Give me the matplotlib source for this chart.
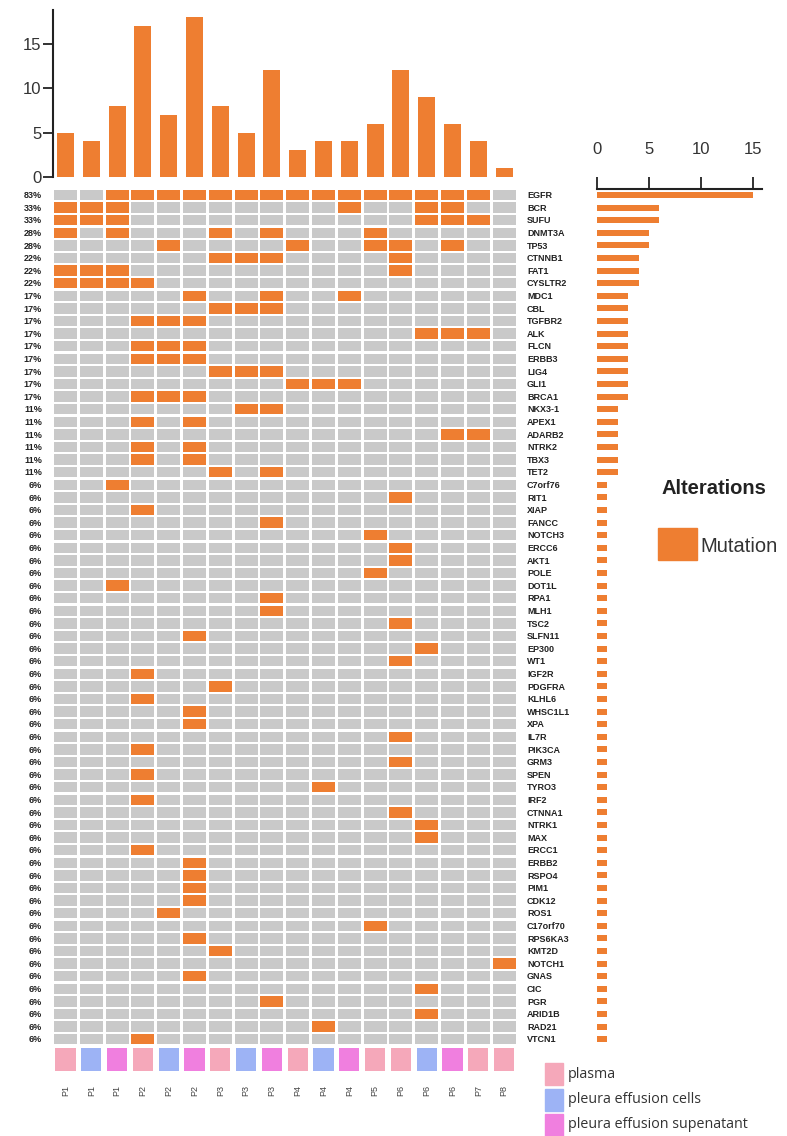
import numpy as np
import matplotlib
matplotlib.use("Agg")
import matplotlib.pyplot as plt
from matplotlib.patches import Rectangle

plt.rcParams['font.family'] = ['Liberation Sans', 'DejaVu Sans']

# samples (columns) and their source type
samples = ['P1', 'P1', 'P1', 'P2', 'P2', 'P2', 'P3', 'P3', 'P3',
           'P4', 'P4', 'P4', 'P5', 'P6', 'P6', 'P6', 'P7', 'P8']
sample_type = ['plasma', 'cells', 'supernatant', 'plasma', 'cells', 'supernatant',
               'plasma', 'cells', 'supernatant', 'plasma', 'cells', 'supernatant',
               'plasma', 'plasma', 'cells', 'supernatant', 'plasma', 'plasma']
type_names = ['plasma', 'cells', 'supernatant']
type_labels = ['plasma', 'pleura effusion cells', 'pleura effusion supenatant']
type_colors = ['#F5A8BA', '#9DB3F5', '#F07FDF']

# genes (rows) and the sample columns (0-based) carrying a mutation
genes = ['EGFR', 'BCR', 'SUFU', 'DNMT3A', 'TP53', 'CTNNB1', 'FAT1', 'CYSLTR2',
         'MDC1', 'CBL', 'TGFBR2', 'ALK', 'FLCN', 'ERBB3', 'LIG4', 'GLI1', 'BRCA1',
         'NKX3-1', 'APEX1', 'ADARB2', 'NTRK2', 'TBX3', 'TET2', 'C7orf76', 'RIT1',
         'XIAP', 'FANCC', 'NOTCH3', 'ERCC6', 'AKT1', 'POLE', 'DOT1L', 'RPA1', 'MLH1',
         'TSC2', 'SLFN11', 'EP300', 'WT1', 'IGF2R', 'PDGFRA', 'KLHL6', 'WHSC1L1',
         'XPA', 'IL7R', 'PIK3CA', 'GRM3', 'SPEN', 'TYRO3', 'IRF2', 'CTNNA1', 'NTRK1',
         'MAX', 'ERCC1', 'ERBB2', 'RSPO4', 'PIM1', 'CDK12', 'ROS1', 'C17orf70',
         'RPS6KA3', 'KMT2D', 'NOTCH1', 'GNAS', 'CIC', 'PGR', 'ARID1B', 'RAD21', 'VTCN1']
mutated = [
    [2, 3, 4, 5, 6, 7, 8, 9, 10, 11, 12, 13, 14, 15, 16],  # EGFR
    [0, 1, 2, 11, 14, 15],  # BCR
    [0, 1, 2, 14, 15, 16],  # SUFU
    [0, 2, 6, 8, 12],       # DNMT3A
    [4, 9, 12, 13, 15],     # TP53
    [6, 7, 8, 13],          # CTNNB1
    [0, 1, 2, 13],          # FAT1
    [0, 1, 2, 3],           # CYSLTR2
    [5, 8, 11],             # MDC1
    [6, 7, 8],              # CBL
    [3, 4, 5],              # TGFBR2
    [14, 15, 16],           # ALK
    [3, 4, 5],              # FLCN
    [3, 4, 5],              # ERBB3
    [6, 7, 8],              # LIG4
    [9, 10, 11],            # GLI1
    [3, 4, 5],              # BRCA1
    [7, 8],                 # NKX3-1
    [3, 5],                 # APEX1
    [15, 16],               # ADARB2
    [3, 5],                 # NTRK2
    [3, 5],                 # TBX3
    [6, 8],                 # TET2
    [2], [13], [3], [8], [12], [13], [13], [12], [2], [8], [8],
    [13], [5], [14], [13], [3], [6], [3], [5], [5], [13], [3], [13],
    [3], [10], [3], [13], [14], [14], [3], [5], [5], [5], [5], [4],
    [12], [5], [6], [17], [5], [14], [8], [14], [10], [3],
]

n_rows = len(genes)
n_cols = len(samples)
mat = np.zeros((n_rows, n_cols), dtype=int)
for i, cols in enumerate(mutated):
    mat[i, cols] = 1
gene_counts = mat.sum(axis=1)
sample_counts = mat.sum(axis=0)

W, H = 787, 1136
gray = '#C9C9C9'
orange = '#EE7E31'


def box(left, top, right, bottom):
    return [left / W, 1 - bottom / H, (right - left) / W, (bottom - top) / H]


fig = plt.figure(figsize=(W / 100, H / 100), dpi=100)

# main oncoprint grid
grid_l, grid_r, grid_t, grid_b = 52.6, 517, 188.7, 1045.5
ax = fig.add_axes(box(grid_l, grid_t, grid_r, grid_b))
xs = np.arange(n_cols) + 0.5
for i in range(n_rows):
    ax.bar(xs, 0.84, bottom=i + 0.08, width=0.89, color=gray, linewidth=0)
    cols = np.where(mat[i] == 1)[0]
    ax.bar(cols + 0.5, 0.84, bottom=i + 0.08, width=0.89, color=orange, linewidth=0)
    pct = '%d%%' % round(100 * gene_counts[i] / n_cols)
    ax.text(-0.41, i + 0.55, pct, ha='right', va='center', fontsize=6.5,
            fontweight='bold', color='#222222')
    ax.text(18.39, i + 0.55, genes[i], ha='left', va='center', fontsize=6.5,
            fontweight='bold', color='#222222')
ax.set_xlim(0, n_cols)
ax.set_ylim(n_rows, 0)
ax.axis('off')

# top bar chart: mutations per sample
axt = fig.add_axes(box(grid_l, 10, grid_r, 177))
axt.bar(xs, sample_counts, width=0.66, color=orange, linewidth=0)
axt.set_xlim(0, n_cols)
axt.set_ylim(0, 18.8)
axt.set_yticks([0, 5, 10, 15])
axt.set_xticks([])
for s in ['top', 'right', 'bottom']:
    axt.spines[s].set_visible(False)
axt.spines['left'].set_linewidth(1.5)
axt.spines['left'].set_color('#222222')
axt.tick_params(axis='y', length=7, width=1.3, labelsize=12, color='#222222',
                labelcolor='#333333', pad=1)
axt.patch.set_alpha(0)

# right bar chart: mutations per gene
axr = fig.add_axes(box(597, grid_t, 762, grid_b))
axr.barh(np.arange(n_rows) + 0.5, gene_counts, height=0.48, color=orange, linewidth=0)
axr.set_xlim(0, 165 / 10.4)
axr.set_ylim(n_rows, 0)
axr.set_xticks([0, 5, 10, 15])
axr.set_yticks([])
axr.xaxis.tick_top()
for s in ['bottom', 'right', 'left']:
    axr.spines[s].set_visible(False)
axr.spines['top'].set_linewidth(1.5)
axr.spines['top'].set_color('#222222')
axr.tick_params(axis='x', length=9, width=1.3, labelsize=12, color='#222222',
                labelcolor='#333333', pad=14)
axr.patch.set_alpha(0)

# sample type annotation row
axa = fig.add_axes(box(grid_l, 1048, grid_r, 1071))
for t, c in zip(type_names, type_colors):
    cols = [j for j in range(n_cols) if sample_type[j] == t]
    axa.bar(np.array(cols) + 0.5, 1, width=0.78, color=c, linewidth=0)
axa.set_xlim(0, n_cols)
axa.set_ylim(0, 1)
axa.set_xticks(xs)
axa.set_xticklabels(samples, rotation=90, fontsize=6.5, color='#444444')
axa.set_yticks([])
axa.tick_params(axis='x', length=0, pad=10)
for s in axa.spines.values():
    s.set_visible(False)

# alterations legend
fig.text(662 / W, 1 - 488 / H, 'Alterations', fontsize=14.5, fontweight='bold',
         ha='left', va='center', color='#222222')
fig.patches.append(Rectangle((658 / W, 1 - 560 / H), 39 / W, 32 / H,
                             transform=fig.transFigure, color=orange))
fig.text(700 / W, 1 - 546 / H, 'Mutation', fontsize=14.5, ha='left', va='center',
         color='#333333')

# sample type legend
for k, (lab, c) in enumerate(zip(type_labels, type_colors)):
    top = 1063 + k * 25.5
    fig.patches.append(Rectangle((545 / W, 1 - (top + 22) / H), 18 / W, 22 / H,
                                 transform=fig.transFigure, color=c))
    fig.text(568 / W, 1 - (top + 11) / H, lab, fontsize=10.3, ha='left', va='center',
             color='#333333', family=['Open Sans', 'DejaVu Sans'])

fig.savefig('out.png', dpi=100)
